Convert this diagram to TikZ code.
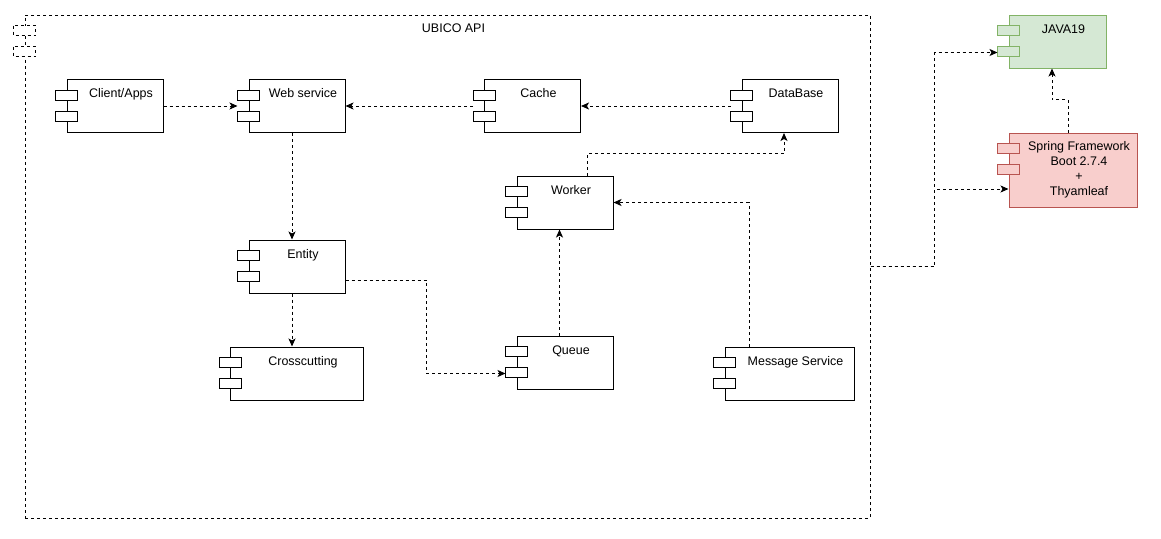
\documentclass[tikz,border=0pt]{standalone}
\usepackage{fontspec}
\setmainfont{Liberation Sans}
\usepackage{tikz}
\usetikzlibrary{arrows.meta,calc}

\definecolor{javafill}{RGB}{213,232,212}
\definecolor{javaline}{RGB}{130,179,102}
\definecolor{springfill}{RGB}{248,206,204}
\definecolor{springline}{RGB}{184,84,80}

\tikzset{
  comp/.style={draw, fill=white, inner sep=0pt, text height=13.7pt, text depth=26.05pt,
    execute at begin node=\hspace*{9pt}},
  apiframe/.style={comp, dash pattern=on 2.25pt off 2.25pt, text height=13.4pt, text depth=363.85pt},
  tab/.style={draw, fill=white},
  dep/.style={dash pattern=on 2.25pt off 2.25pt, -{Stealth[length=6pt,width=5.25pt,inset=1.5pt]}},
}

% two little tabs on the left side of a component
\newcommand{\comptabs}[2][]{%
  \foreach \ty in {11,32}
    \draw[tab,#1] ($(#2.north west)+(-11,\ty)$) rectangle ++(22,10);
}

\begin{document}
\begin{tikzpicture}[x=0.75pt,y=0.75pt,yscale=-1,xscale=1,line width=0.75pt,
    every node/.style={font=\fontsize{9.35pt}{11.4pt}\selectfont}]
        \useasboundingbox (0,0) rectangle (1161,539);

        %Frame: UBICO API
        \node [apiframe, minimum width=633.75pt] (api) at (447.5,266.5) {UBICO API};
        \comptabs[dash pattern=on 2.25pt off 2.25pt]{api}

        %Components
        \node [comp, minimum width=72pt] (client) at (115,106) {Client/Apps};
        \comptabs{client}
        \node [comp, minimum width=72pt] (web) at (297,106) {Web service};
        \comptabs{web}
        \node [comp, minimum width=72pt] (cache) at (532.5,106) {Cache};
        \comptabs{cache}
        \node [comp, minimum width=72pt] (db) at (790,106) {DataBase};
        \comptabs{db}
        \node [comp, minimum width=72pt] (worker) at (565,202.5) {Worker};
        \comptabs{worker}
        \node [comp, minimum width=72pt] (entity) at (297,266.5) {Entity};
        \comptabs{entity}
        \node [comp, minimum width=99.75pt] (cross) at (297,373.5) {Crosscutting};
        \comptabs{cross}
        \node [comp, minimum width=72pt] (queue) at (565,362.5) {Queue};
        \comptabs{queue}
        \node [comp, minimum width=96.75pt] (msg) at (789.5,373.5) {Message Service};
        \comptabs{msg}

        %Outside: platform
        \node [comp, fill=javafill, draw=javaline, minimum width=72.75pt] (java) at (1057.5,41.5) {JAVA19};
        \comptabs[fill=javafill, draw=javaline]{java}
        \node [comp, fill=springfill, draw=springline, minimum width=96pt, minimum height=55.5pt, text height=, text depth=] (spring) at (1073,170)
          {\begin{tabular}{@{}c@{}}Spring Framework\\Boot 2.7.4\\+\\Thyamleaf\end{tabular}};
        \comptabs[fill=springfill, draw=springline]{spring}

        %Connectors
        \draw [dep] (client.east) -- ($(web.west)+(-11,0)$);
        \draw [dep] ($(cache.west)+(-11,0)$) -- (web.east);
        \draw [dep] ($(db.west)+(-11,0)$) -- (cache.east);
        \draw [dep] ($(web.south)+(-5,0)$) -- ($(entity.north)+(-5,0)$);
        \draw [dep] ($(entity.south)+(-5,0)$) -- ($(cross.north)+(-5,0)$);
        \draw [dep] ($(entity.east)+(0,13.5)$) -- ++(81,0) |- ($(queue.west)+(-11,11)$);
        \draw [dep] ($(queue.north)+(-5.5,0)$) -- ($(worker.south)+(-5.5,0)$);
        \draw [dep] ($(worker.north)+(22,0)$) -- ++(0,-22) -| ($(db.south)+(-6,0)$);
        \draw [dep] ($(msg.north)+(-40.5,0)$) |- (worker.east);
        \draw [dep] ($(spring.north)+(-5,0)$) -- ++(0,-33) -| ($(java.south)+(-5.5,0)$);
        \draw [dep] (api.east) -- ++(64,0) |- ($(java.west)+(-11,11)$);
        \draw [dep] (api.east) -- ++(64,0) |- ($(spring.west)+(0,19)$);

    \end{tikzpicture}
\end{document}
